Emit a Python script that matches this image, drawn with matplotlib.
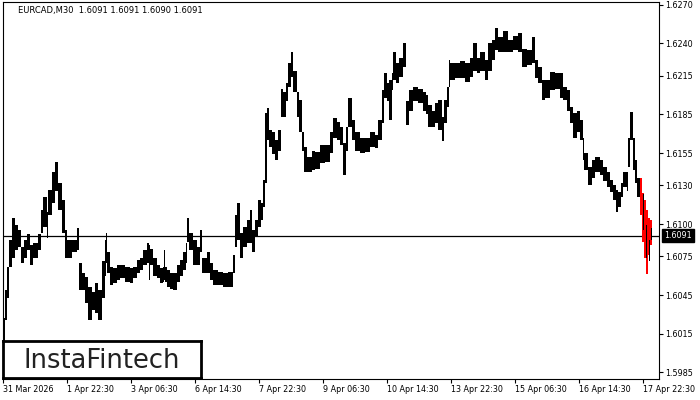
import matplotlib
matplotlib.use("Agg")
import matplotlib.pyplot as plt
import matplotlib.transforms as mtransforms
import numpy as np

# EURCAD M30, bars grouped in short runs: start bar index, high, low
bar_start = [0, 2, 4, 6, 9, 12, 15, 18, 21, 24, 27, 30, 35, 38, 40, 44, 45, 49, 52, 55,
             59, 62, 64, 69, 74, 76, 79, 82, 85, 89, 92, 95, 99, 102, 103, 104, 107, 110, 114, 117,
             122, 127, 130, 134, 137, 140, 144, 146, 147, 150, 154, 157, 160, 161, 162, 164, 167, 170, 174, 177,
             180, 183, 184, 186, 190, 194, 197, 199, 204, 207, 210, 215, 220, 225, 230, 232, 234, 237, 240, 244,
             247, 249, 252, 255, 258, 260, 262, 264, 266, 269, 272, 275, 278, 280, 283, 285, 288, 290, 294, 296,
             299, 301, 304, 309, 312, 317, 322, 327, 330, 334, 337, 340, 343, 345, 349, 352, 357, 362, 367, 372,
             375, 379, 381, 384, 386, 389, 390, 393, 396, 400, 403, 406, 410, 415, 420, 423, 425, 429, 432, 435,
             439, 441, 444, 446, 447, 452, 457, 462, 467, 470, 474, 477, 482, 485, 489, 492, 495, 500, 505, 510,
             515, 519, 524, 529, 532, 535, 539, 542, 547, 552, 557, 560, 564, 567, 570, 574, 577, 580, 581, 585,
             589, 592, 597, 600, 604, 607, 610, 613, 615, 618, 620, 624, 625, 627, 630, 632, 634]
bar_high = [1.6027, 1.6049, 1.6067, 1.6088, 1.6105, 1.6099, 1.6095, 1.6082, 1.6088, 1.6092,
            1.6084, 1.6085, 1.6092, 1.6111, 1.6121, 1.6109, 1.6126, 1.6140, 1.6148, 1.6132,
            1.6119, 1.6095, 1.6088, 1.6088, 1.6097, 1.6070, 1.6062, 1.6059, 1.6051, 1.6047,
            1.6054, 1.6049, 1.6071, 1.6088, 1.6093, 1.6078, 1.6067, 1.6066, 1.6068, 1.6068,
            1.6067, 1.6066, 1.6067, 1.6072, 1.6074, 1.6080, 1.6085, 1.6084, 1.6081, 1.6074,
            1.6068, 1.6066, 1.6067, 1.6080, 1.6067, 1.6064, 1.6062, 1.6062, 1.6068, 1.6072,
            1.6078, 1.6085, 1.6105, 1.6093, 1.6088, 1.6082, 1.6095, 1.6074, 1.6078, 1.6070,
            1.6064, 1.6063, 1.6062, 1.6063, 1.6076, 1.6107, 1.6116, 1.6093, 1.6098, 1.6103,
            1.6111, 1.6095, 1.6103, 1.6119, 1.6116, 1.6134, 1.6186, 1.6190, 1.6173, 1.6171,
            1.6165, 1.6173, 1.6205, 1.6202, 1.6209, 1.6225, 1.6233, 1.6219, 1.6202, 1.6196,
            1.6171, 1.6160, 1.6152, 1.6157, 1.6156, 1.6161, 1.6161, 1.6171, 1.6182, 1.6179,
            1.6175, 1.6163, 1.6175, 1.6198, 1.6181, 1.6171, 1.6167, 1.6167, 1.6171, 1.6169,
            1.6181, 1.6204, 1.6217, 1.6209, 1.6212, 1.6217, 1.6233, 1.6225, 1.6229, 1.6240,
            1.6195, 1.6204, 1.6206, 1.6205, 1.6202, 1.6200, 1.6192, 1.6188, 1.6194, 1.6196,
            1.6183, 1.6196, 1.6206, 1.6227, 1.6225, 1.6225, 1.6226, 1.6225, 1.6229, 1.6240,
            1.6229, 1.6233, 1.6227, 1.6240, 1.6243, 1.6252, 1.6245, 1.6250, 1.6243, 1.6246,
            1.6248, 1.6236, 1.6235, 1.6245, 1.6227, 1.6222, 1.6212, 1.6212, 1.6218, 1.6217,
            1.6217, 1.6206, 1.6204, 1.6191, 1.6186, 1.6188, 1.6181, 1.6167, 1.6155, 1.6144,
            1.6150, 1.6152, 1.6150, 1.6144, 1.6140, 1.6134, 1.6130, 1.6126, 1.6125, 1.6132,
            1.6140, 1.6140, 1.6167, 1.6187, 1.6167, 1.6150, 1.6136]
bar_low = [1.6009, 1.6026, 1.6043, 1.6067, 1.6074, 1.6080, 1.6082, 1.6070, 1.6074, 1.6080,
           1.6068, 1.6074, 1.6080, 1.6093, 1.6098, 1.6089, 1.6107, 1.6116, 1.6126, 1.6111,
           1.6093, 1.6074, 1.6074, 1.6078, 1.6080, 1.6049, 1.6049, 1.6039, 1.6026, 1.6033,
           1.6031, 1.6026, 1.6043, 1.6060, 1.6070, 1.6062, 1.6053, 1.6054, 1.6057, 1.6058,
           1.6055, 1.6054, 1.6058, 1.6062, 1.6064, 1.6068, 1.6070, 1.6057, 1.6068, 1.6060,
           1.6058, 1.6054, 1.6055, 1.6057, 1.6055, 1.6051, 1.6050, 1.6049, 1.6055, 1.6060,
           1.6064, 1.6070, 1.6086, 1.6080, 1.6068, 1.6068, 1.6078, 1.6062, 1.6062, 1.6057,
           1.6053, 1.6053, 1.6051, 1.6051, 1.6062, 1.6082, 1.6088, 1.6074, 1.6082, 1.6085,
           1.6085, 1.6078, 1.6090, 1.6098, 1.6103, 1.6113, 1.6132, 1.6165, 1.6160, 1.6154,
           1.6150, 1.6157, 1.6183, 1.6183, 1.6195, 1.6206, 1.6214, 1.6202, 1.6183, 1.6171,
           1.6157, 1.6140, 1.6140, 1.6142, 1.6143, 1.6147, 1.6148, 1.6155, 1.6167, 1.6165,
           1.6161, 1.6138, 1.6157, 1.6175, 1.6165, 1.6157, 1.6155, 1.6156, 1.6160, 1.6159,
           1.6165, 1.6178, 1.6198, 1.6195, 1.6181, 1.6204, 1.6212, 1.6209, 1.6214, 1.6222,
           1.6177, 1.6188, 1.6195, 1.6194, 1.6188, 1.6185, 1.6175, 1.6175, 1.6178, 1.6173,
           1.6164, 1.6178, 1.6191, 1.6206, 1.6212, 1.6213, 1.6213, 1.6210, 1.6214, 1.6219,
           1.6217, 1.6219, 1.6212, 1.6219, 1.6227, 1.6235, 1.6233, 1.6233, 1.6233, 1.6235,
           1.6233, 1.6222, 1.6223, 1.6225, 1.6213, 1.6209, 1.6196, 1.6198, 1.6204, 1.6205,
           1.6198, 1.6196, 1.6188, 1.6178, 1.6167, 1.6171, 1.6165, 1.6150, 1.6142, 1.6130,
           1.6136, 1.6140, 1.6138, 1.6133, 1.6129, 1.6125, 1.6119, 1.6109, 1.6113, 1.6121,
           1.6129, 1.6126, 1.6144, 1.6165, 1.6142, 1.6132, 1.6121]

# last bars highlighted in red, with the black bars drawn over them
red_start = [637, 639, 641, 643, 645, 647]
red_high = [1.6136, 1.6124, 1.6119, 1.6111, 1.6105, 1.6103]
red_low = [1.6107, 1.6086, 1.6074, 1.6061, 1.6076, 1.6084]
tail_start = [640, 643, 646, 648]
tail_high = [1.6123, 1.6099, 1.6088, 1.6097]
tail_low = [1.6095, 1.6074, 1.6071, 1.6088]

last_price = 1.6091
title = "EURCAD,M30  1.6091 1.6091 1.6090 1.6091"

y_ticks = [1.6270, 1.6240, 1.6215, 1.6185, 1.6155, 1.6130, 1.6100, 1.6075, 1.6045, 1.6015, 1.5985]
x_tick_idx = [0, 64, 128, 192, 256, 320, 384, 448, 512, 576, 640]
x_tick_labels = ["31 Mar 2026", "1 Apr 22:30", "3 Apr 06:30", "6 Apr 14:30", "7 Apr 22:30",
                 "9 Apr 06:30", "10 Apr 14:30", "13 Apr 22:30", "15 Apr 06:30", "16 Apr 14:30",
                 "17 Apr 22:30"]

assert len(bar_start) == len(bar_high) == len(bar_low)

fig = plt.figure(figsize=(7, 4), dpi=100)
ax = fig.add_axes([3 / 700, 21 / 400, 656 / 700, 377 / 400])

hi = np.array(bar_high)
lo = np.array(bar_low)
widths = np.diff(bar_start + [red_start[0]])
ax.bar(bar_start, hi - lo, bottom=lo, width=widths, align="edge",
       color="black", linewidth=0, antialiased=False, zorder=3)
ax.bar(red_start, np.array(red_high) - np.array(red_low), bottom=red_low, width=2,
       align="edge", color="red", linewidth=0, antialiased=False, zorder=3)
ax.bar(tail_start, np.array(tail_high) - np.array(tail_low), bottom=tail_low, width=1,
       align="edge", color="black", linewidth=0, antialiased=False, zorder=4)

ax.axhline(last_price, color="black", lw=0.9, zorder=2)

ax.set_xlim(0, 656)
ax.set_ylim(1.59799, 1.62721)
ax.yaxis.tick_right()
ax.set_yticks(y_ticks)
ax.set_yticklabels([f"{v:.4f}" for v in y_ticks])
ax.set_xticks(x_tick_idx)
ax.set_xticklabels(x_tick_labels, ha="left")
ax.tick_params(axis="both", length=3, width=0.8, labelsize=5.8, pad=1.5, direction="out")
for s in ax.spines.values():
    s.set_linewidth(0.8)

# current price tag on the right axis
trans = mtransforms.blended_transform_factory(ax.transAxes, ax.transData)
ax.text(1 + 5 / 656, last_price, f"{last_price:.4f}", transform=trans, ha="left", va="center",
        fontsize=5.8, color="white", clip_on=False,
        bbox=dict(facecolor="black", edgecolor="black", pad=1.6))

fig.text(18 / 700, 1 - 11 / 400, title, fontsize=6, ha="left", va="center")

# logo box
lax = fig.add_axes([3 / 700, 22 / 400, 198 / 700, 37 / 400])
lax.set_facecolor("white")
lax.set_xticks([])
lax.set_yticks([])
for s in lax.spines.values():
    s.set_linewidth(2)
lax.text(0.5, 0.47, "InstaFintech", fontsize=18.5, color="#222222", ha="center", va="center",
         transform=lax.transAxes)

fig.savefig("out.png", dpi=100)
